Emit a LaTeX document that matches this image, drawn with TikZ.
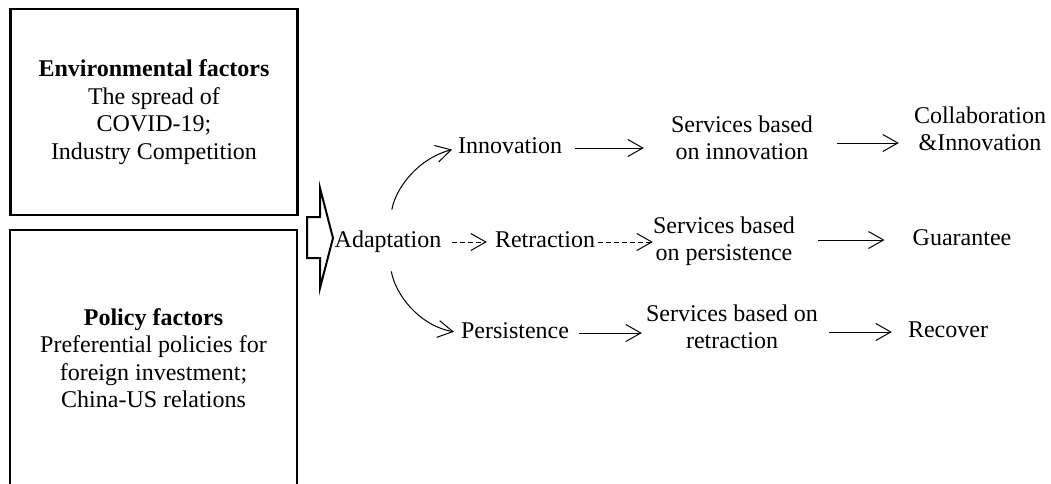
\documentclass[tikz,border=0pt]{standalone}
\usepackage{fontspec}
\setmainfont{Liberation Serif}
\usetikzlibrary{arrows.meta}
\tikzstyle{factorbox} = [draw=black, line width=2.2pt, rectangle, align=center, font=\fontsize{24}{27.5}\selectfont, minimum width=287pt]
\tikzstyle{stage} = [inner sep=0pt, font=\fontsize{24}{27.5}\selectfont, text height=16pt, text depth=5pt]
\tikzstyle{stagetwo} = [inner sep=0pt, align=center, font=\fontsize{24}{27.5}\selectfont]
\tikzstyle{flow} = [line width=1pt, -{Straight Barb[length=15pt,width=17pt]}]
\tikzstyle{weakflow} = [flow, dash pattern=on 5pt off 3pt]

\begin{document}
\begin{tikzpicture}[x=1pt,y=-1pt]
\useasboundingbox (0,0) rectangle (1051,483);
% factor boxes
\node[factorbox, minimum height=206pt] (env) at (154,112) {\textbf{Environmental factors}\\The spread of\\COVID-19;\\Industry Competition};
\node[factorbox, minimum height=256pt] (policy) at (153.5,358) {\textbf{Policy factors}\\Preferential policies for\\foreign investment;\\China-US relations};
% hollow block arrow
\draw[line width=2pt, line join=miter] (307,217) -- (320,217) -- (320,188) -- (333,238) -- (320,288) -- (320,258) -- (307,258) -- cycle;

% strategies
\node[stage] (adapt) at (388,242) {Adaptation};
\node[stage] (innov) at (510,148) {Innovation};
\node[stage] (retract) at (545,242) {Retraction};
\node[stage] (persist) at (515,333) {Persistence};

% services
\node[stagetwo] (sinnov) at (742,138) {Services based\\on innovation};
\node[stagetwo] (spersist) at (724,241) {Services based\\on persistence};
\node[stagetwo] (sretract) at (732,327) {Services based on\\retraction};

% outcomes
\node[stagetwo] (collab) at (980,129) {Collaboration\\\&Innovation};
\node[stage] (guar) at (962,240) {Guarantee};
\node[stage] (recov) at (948,332) {Recover};

\draw[flow, shorten <=22pt, shorten >=6pt] (adapt.north) to[out=80,in=195] (innov.west);
\draw[weakflow, shorten <=10pt, shorten >=8pt] (adapt) -- (retract);
\draw[flow, shorten <=19pt, shorten >=7pt] (adapt.south) to[out=-80,in=170] (persist.west);

\draw[flow, shorten <=13pt, shorten >=27pt] (innov.east) -- (innov.east -| sinnov.west);
\draw[weakflow, shorten <=3pt] (retract.east) -- (retract.east -| spersist.west);
\draw[flow, shorten <=10pt, shorten >=4pt] (persist.east) -- (persist.east -| sretract.west);

\draw[flow, shorten <=24pt, shorten >=15pt] ([yshift=-5pt]sinnov.east) -- ([yshift=-5pt]sinnov.east -| collab.west);
\draw[flow, shorten <=23pt, shorten >=28pt] (spersist.east |- guar.west) -- (guar.west);
\draw[flow, shorten <=11pt, shorten >=16pt] (sretract.east |- recov.west) -- (recov.west);
\end{tikzpicture}
\end{document}
